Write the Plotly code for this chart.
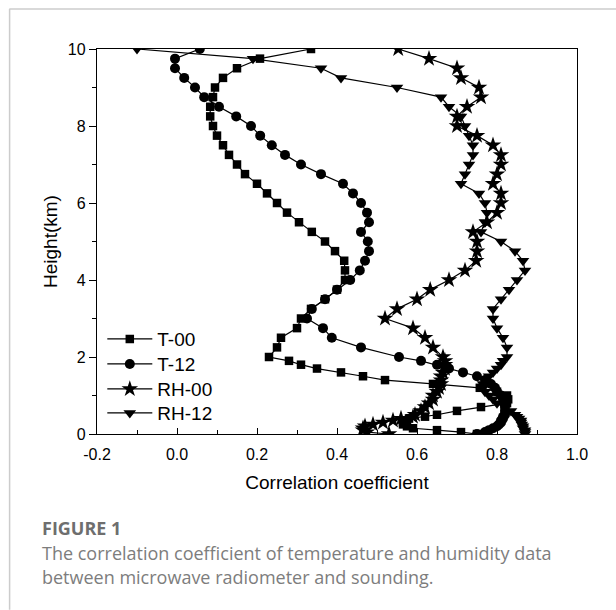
import plotly.graph_objects as go

# Heights (km) of the retrieval levels
heights = [0, 0.05, 0.1, 0.15, 0.2, 0.25, 0.3, 0.35, 0.4, 0.45, 0.5,
           0.6, 0.7, 0.8, 0.9, 1.0, 1.1, 1.2, 1.3, 1.4, 1.5, 1.6, 1.7, 1.8, 1.9, 2.0,
           2.25, 2.5, 2.75, 3.0, 3.25, 3.5, 3.75, 4.0, 4.25, 4.5, 4.75, 5.0, 5.25, 5.5,
           5.75, 6.0, 6.25, 6.5, 6.75, 7.0, 7.25, 7.5, 7.75, 8.0, 8.25, 8.5, 8.75, 9.0,
           9.25, 9.5, 9.75, 10.0]

t00 = [0.75, 0.71, 0.65, 0.59, 0.575, 0.565, 0.565, 0.57, 0.58, 0.62, 0.65,
       0.70, 0.76, 0.825, 0.828, 0.825, 0.80, 0.757, 0.64, 0.52, 0.465, 0.41, 0.35, 0.31, 0.28, 0.23,
       0.25, 0.26, 0.30, 0.31, 0.335, 0.37, 0.40, 0.42, 0.42, 0.418, 0.395, 0.37, 0.337, 0.305,
       0.275, 0.25, 0.225, 0.20, 0.17, 0.15, 0.13, 0.115, 0.10, 0.09, 0.083, 0.083, 0.09, 0.095,
       0.115, 0.15, 0.2075, 0.335]

t12 = [0.75, 0.77, 0.78, 0.79, 0.80, 0.805, 0.81, 0.81, 0.815, 0.815, 0.82,
       0.82, 0.82, 0.82, 0.815, 0.81, 0.80, 0.795, 0.785, 0.77, 0.75, 0.715, 0.68, 0.65, 0.61, 0.555,
       0.46, 0.387, 0.365, 0.325, 0.337, 0.37, 0.40, 0.433, 0.457, 0.47, 0.48, 0.477, 0.46, 0.48,
       0.475, 0.46, 0.44, 0.415, 0.36, 0.31, 0.27, 0.237, 0.208, 0.185, 0.148, 0.105, 0.068, 0.045,
       0.018, -0.005, -0.005, 0.057]

rh00 = [0.53, 0.475, 0.465, 0.465, 0.47, 0.49, 0.515, 0.54, 0.56, 0.59, 0.595,
        0.61, 0.62, 0.63, 0.64, 0.64, 0.65, 0.655, 0.66, 0.66, 0.66, 0.665, 0.67, 0.67, 0.67, 0.665,
        0.64, 0.62, 0.59, 0.52, 0.55, 0.60, 0.633, 0.68, 0.72, 0.748, 0.75, 0.75, 0.74, 0.775,
        0.80, 0.81, 0.81, 0.79, 0.80, 0.81, 0.81, 0.79, 0.75, 0.70, 0.70, 0.725, 0.76, 0.755,
        0.71, 0.70, 0.63, 0.553]

rh12 = [0.87, 0.87, 0.87, 0.865, 0.865, 0.862, 0.86, 0.86, 0.855, 0.85, 0.845,
        0.835, 0.82, 0.80, 0.79, 0.78, 0.77, 0.765, 0.765, 0.77, 0.78, 0.79, 0.80, 0.81, 0.815, 0.825,
        0.825, 0.815, 0.80, 0.79, 0.79, 0.81, 0.83, 0.85, 0.87, 0.865, 0.845, 0.81, 0.76, 0.77,
        0.775, 0.77, 0.755, 0.71, 0.72, 0.73, 0.74, 0.74, 0.73, 0.72, 0.71, 0.68, 0.66, 0.55,
        0.41, 0.36, 0.19, -0.10]

series = [
    ("T-00", t00, "square", 8.5),
    ("T-12", t12, "circle", 10),
    ("RH-00", rh00, "star", 12.5),
    ("RH-12", rh12, "triangle-down", 11),
]

# plot area in pixels
L, R, T, B = 96.7, 576.7, 48.5, 434.0
def px(x):
    return (x - L) / (R - L)
def py(y):
    return (B - y) / (B - T)

font_main = "Arial"
cap_font = "Open Sans"

legend_ids = ["legend", "legend2", "legend3", "legend4"]
legend_rows = [339, 364, 389, 413]

fig = go.Figure()
for (name, vals, sym, sz), lid in zip(series, legend_ids):
    fig.add_trace(go.Scatter(
        x=vals, y=heights, name=name, mode="lines+markers",
        line=dict(color="black", width=1.2),
        marker=dict(symbol=sym, size=sz, color="black", line=dict(width=0)),
        cliponaxis=True, legend=lid,
    ))

layout_legends = {}
for lid, row in zip(legend_ids, legend_rows):
    layout_legends[lid] = dict(x=px(102), y=py(row), xanchor="left", yanchor="middle",
                               font=dict(family=font_main, size=19, color="black"),
                               bgcolor="rgba(0,0,0,0)", itemwidth=45)

fig.update_layout(
    width=616, height=610,
    margin=dict(l=L, r=616 - R, t=T, b=610 - B, pad=0),
    paper_bgcolor="white", plot_bgcolor="white",
    showlegend=True,
    xaxis=dict(range=[-0.2, 1.0], tickvals=[-0.2, 0.0, 0.2, 0.4, 0.6, 0.8, 1.0],
               ticktext=["-0.2", "0.0", "0.2", "0.4", "0.6", "0.8", "1.0"],
               ticks="inside", ticklen=6, tickwidth=1.2, tickcolor="black",
               ticklabelstandoff=6,
               minor=dict(dtick=0.1, tick0=-0.2, ticks="inside", ticklen=4, tickwidth=1.2, tickcolor="black"),
               showline=True, linecolor="black", linewidth=1.3, mirror=True,
               showgrid=False, zeroline=False,
               tickfont=dict(family=font_main, size=16, color="black"),
               title=dict(text="Correlation coefficient", standoff=13,
                          font=dict(family=font_main, size=19, color="black"))),
    yaxis=dict(range=[0, 10], tickvals=[0, 2, 4, 6, 8, 10],
               ticks="outside", ticklen=7, tickwidth=1.2, tickcolor="black",
               minor=dict(dtick=1, tick0=0, ticks="outside", ticklen=4, tickwidth=1.2, tickcolor="black"),
               showline=True, linecolor="black", linewidth=1.3, mirror=True,
               showgrid=False, zeroline=False,
               tickfont=dict(family=font_main, size=16, color="black"),
               title=dict(text="Height(km)", standoff=5,
                          font=dict(family=font_main, size=19, color="black"))),
    **layout_legends,
)

# caption
fig.add_annotation(xref="paper", yref="paper", x=px(40), y=py(528), xanchor="left", yanchor="middle",
                   text="<b>FIGURE 1</b>", showarrow=False,
                   font=dict(family=cap_font, size=18, color="#6e6e6e"))
fig.add_annotation(xref="paper", yref="paper", x=px(40), y=py(553), xanchor="left", yanchor="middle",
                   text="The correlation coefficient of temperature and humidity data", showarrow=False,
                   font=dict(family=cap_font, size=18, color="#7d7d7d"))
fig.add_annotation(xref="paper", yref="paper", x=px(40), y=py(577), xanchor="left", yanchor="middle",
                   text="between microwave radiometer and sounding.", showarrow=False,
                   font=dict(family=cap_font, size=18, color="#7d7d7d"))

# page border lines
fig.add_shape(type="line", xref="paper", yref="paper", x0=px(9), x1=px(616), y0=py(8.5), y1=py(8.5),
              line=dict(color="#cccccc", width=1.5))
fig.add_shape(type="line", xref="paper", yref="paper", x0=px(9.3), x1=px(9.3), y0=py(8.5), y1=py(610),
              line=dict(color="#cccccc", width=1.5))

fig.write_html("out.html")
